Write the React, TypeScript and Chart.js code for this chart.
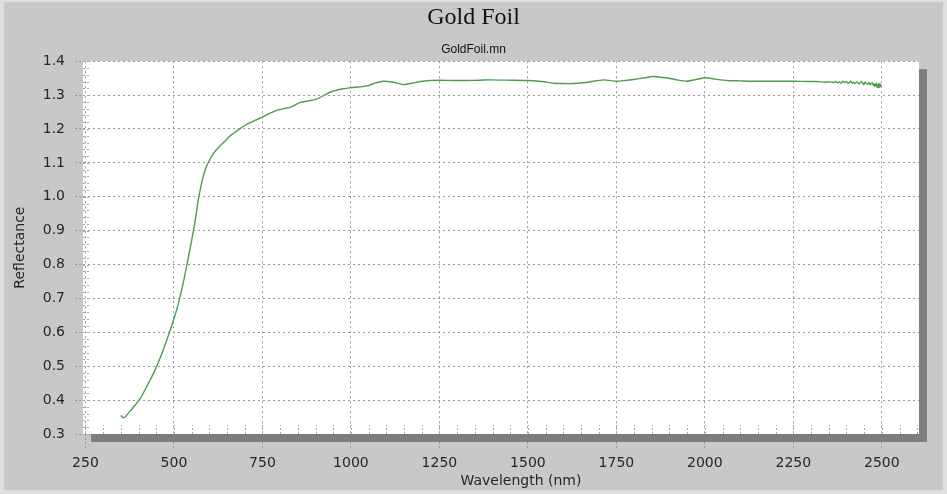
import React, { useEffect, useRef } from "react";
import { Chart, registerables } from "chart.js";

Chart.register(...registerables);

const wavelengths = [
  350, 356, 362, 370, 385, 405, 425, 446, 465, 484, 500, 512, 525, 536, 546, 555, 563, 569, 576, 583,
  590, 597, 608, 621, 640, 658, 680, 706, 730, 752, 770, 790, 810, 828, 856, 880, 903, 925, 950, 975,
  1000, 1022, 1045, 1070, 1092, 1120, 1148, 1172, 1196, 1225, 1250, 1290, 1327, 1365, 1393, 1450, 1500,
  1540, 1572, 1600, 1628, 1670, 1713, 1750, 1775, 1799, 1830, 1855, 1880, 1902, 1925, 1949, 1975, 2002,
  2030, 2062, 2100, 2127, 2170, 2210, 2250, 2290, 2316, 2340, 2352, 2363, 2370, 2375, 2380, 2385, 2390,
  2395, 2400, 2405, 2409, 2412, 2416, 2420, 2425, 2429, 2433, 2437, 2441, 2445, 2449, 2452, 2456, 2460,
  2464, 2467, 2470, 2473, 2476, 2478, 2480, 2482, 2484, 2486, 2488, 2489, 2491, 2492, 2494, 2495, 2497,
  2498,
];

const reflectance = [
  0.355, 0.348, 0.35, 0.36, 0.378, 0.405, 0.444, 0.487, 0.535, 0.59, 0.64, 0.683, 0.74, 0.796, 0.85,
  0.899, 0.95, 0.993, 1.03, 1.061, 1.085, 1.101, 1.122, 1.14, 1.16, 1.179, 1.196, 1.214, 1.226, 1.236,
  1.246, 1.255, 1.26, 1.264, 1.278, 1.283, 1.288, 1.3, 1.312, 1.318, 1.322, 1.324, 1.327, 1.336, 1.341,
  1.338, 1.331, 1.335, 1.34, 1.343, 1.344, 1.343, 1.343, 1.344, 1.345, 1.344, 1.343, 1.34, 1.335, 1.334,
  1.334, 1.338, 1.345, 1.341, 1.343, 1.346, 1.351, 1.355, 1.352, 1.349, 1.344, 1.341, 1.346, 1.351,
  1.347, 1.343, 1.342, 1.341, 1.341, 1.341, 1.341, 1.34, 1.34, 1.338, 1.339, 1.337, 1.34, 1.336, 1.339,
  1.335, 1.341, 1.337, 1.34, 1.334, 1.338, 1.342, 1.335, 1.338, 1.334, 1.339, 1.336, 1.333, 1.34, 1.336,
  1.331, 1.338, 1.335, 1.332, 1.337, 1.33, 1.334, 1.336, 1.329, 1.333, 1.326, 1.331, 1.335, 1.324, 1.33,
  1.322, 1.334, 1.327, 1.323, 1.333, 1.326, 1.33, 1.327,
];

const xTicksStep = 250;
const yTicksStep = 0.1;

const chartTitle = "Gold Foil";
const chartSubtitle = "GoldFoil.mn";
const xTitle = "Wavelength (nm)";
const yTitle = "Reflectance";

const TICK_FONT = { family: "'DejaVu Sans', sans-serif", size: 14 };
const TEXT_COLOR = "#262626";

const framePlugin = {
  id: "frame",
  beforeDraw(chart: any) {
    const { ctx, width, height, chartArea } = chart;
    ctx.save();
    ctx.fillStyle = "#dedede";
    ctx.fillRect(0, 0, width, height);
    ctx.fillStyle = "#c8c8c8";
    ctx.fillRect(4, 2, width - 8, height - 6);
    ctx.fillStyle = "#ffffff";
    ctx.fillRect(chartArea.left, chartArea.top, chartArea.right - chartArea.left, chartArea.bottom - chartArea.top);
    ctx.restore();
  },
  beforeDatasetsDraw(chart: any) {
    const { ctx, chartArea, scales } = chart;
    const xs = scales.x;
    const ys = scales.y;
    ctx.save();
    ctx.strokeStyle = "#a8a8a8";
    ctx.lineWidth = 1;
    ctx.setLineDash([2, 2]);
    for (let v = 250; v <= 2600; v += 50) {
      const px = Math.round(xs.getPixelForValue(v)) + 0.5;
      ctx.beginPath();
      ctx.moveTo(px, chartArea.bottom);
      ctx.lineTo(px, chartArea.bottom - 9);
      ctx.stroke();
    }
    for (let i = 0; i <= 55; i++) {
      const v = 0.3 + i * 0.02;
      const py = Math.round(ys.getPixelForValue(v)) + 0.5;
      ctx.beginPath();
      ctx.moveTo(chartArea.left, py);
      ctx.lineTo(chartArea.left + 7, py);
      ctx.stroke();
    }
    ctx.restore();
  },
  afterDraw(chart: any) {
    const { ctx, chartArea } = chart;
    ctx.save();
    ctx.fillStyle = "#7e7e7e";
    ctx.fillRect(chartArea.right, chartArea.top + 8, 8, chartArea.bottom - chartArea.top);
    ctx.fillRect(chartArea.left + 8, chartArea.bottom, chartArea.right - chartArea.left, 8);
    ctx.fillStyle = TEXT_COLOR;
    ctx.font = "14px 'DejaVu Sans', sans-serif";
    ctx.textAlign = "center";
    ctx.textBaseline = "middle";
    ctx.fillText(xTitle, (chartArea.left + chartArea.right) / 2 + 20, 481);
    ctx.restore();
  },
};

export default function App() {
  const ref = useRef<HTMLCanvasElement>(null);

  useEffect(() => {
    if (!ref.current) return;
    const points = wavelengths.map((w, i) => ({ x: w, y: reflectance[i] }));
    const chart = new Chart(ref.current, {
      type: "line",
      data: {
        datasets: [
          {
            label: chartSubtitle,
            data: points,
            borderColor: "#4f9c4f",
            borderWidth: 1.4,
            pointRadius: 0,
            tension: 0.2,
            fill: false,
          },
        ],
      },
      options: {
        responsive: false,
        animation: false,
        layout: { padding: { left: 0, right: 0, top: 0, bottom: 0 } },
        plugins: {
          legend: { display: false },
          tooltip: { enabled: false },
          title: {
            display: true,
            text: chartTitle,
            color: "#111111",
            font: { family: "'Liberation Serif', serif", size: 24, weight: "normal" },
            padding: { top: 3, bottom: 6 },
          },
          subtitle: {
            display: true,
            text: chartSubtitle,
            color: "#111111",
            font: { family: "'Liberation Sans', sans-serif", size: 12 },
            padding: { top: 5, bottom: 4 },
          },
        },
        scales: {
          x: {
            type: "linear",
            min: 243,
            max: 2605,
            afterFit: (s: any) => {
              s.height = 60;
            },
            border: { display: false, dash: [2, 3] },
            grid: {
              color: "#9a9a9a",
              tickLength: 14,
              tickColor: "#9a9a9a",
              tickBorderDash: [2, 2],
            },
            ticks: {
              stepSize: xTicksStep,
              includeBounds: false,
              autoSkip: false,
              maxRotation: 0,
              padding: 7,
              color: TEXT_COLOR,
              font: TICK_FONT,
              callback: (v: any) => String(v),
            },
          },
          y: {
            type: "linear",
            min: 0.3,
            max: 1.4,
            afterFit: (s: any) => {
              s.width = 83;
            },
            border: { display: false, dash: [2, 3] },
            grid: {
              color: "#9a9a9a",
              tickLength: 8,
              tickColor: "#9a9a9a",
              tickBorderDash: [2, 2],
            },
            ticks: {
              stepSize: yTicksStep,
              includeBounds: false,
              padding: 10,
              color: TEXT_COLOR,
              font: TICK_FONT,
              callback: (v: any) => Number(v).toFixed(1),
            },
            title: {
              display: true,
              text: yTitle,
              color: TEXT_COLOR,
              font: TICK_FONT,
              padding: { top: 12, bottom: 0 },
            },
          },
          yRightSpacer: {
            type: "linear",
            position: "right",
            min: 0.3,
            max: 1.4,
            afterFit: (s: any) => {
              s.width = 28;
            },
            border: { display: false },
            grid: { display: false, drawTicks: false },
            ticks: { display: false },
          },
        },
      },
      plugins: [framePlugin],
    });
    return () => chart.destroy();
  }, []);

  return (
    <div style={{ position: "fixed", left: 0, top: 0, width: 947, height: 494 }}>
      <canvas ref={ref} width={947} height={494} style={{ display: "block" }} />
    </div>
  );
}
